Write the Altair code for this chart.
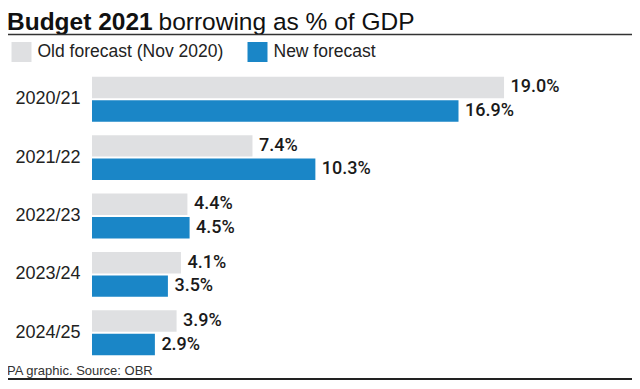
import altair as alt
import pandas as pd

years = ["2020/21", "2021/22", "2022/23", "2023/24", "2024/25"]
old_forecast = [19.0, 7.4, 4.4, 4.1, 3.9]
new_forecast = [16.9, 10.3, 4.5, 3.5, 2.9]
series_names = ["Old forecast (Nov 2020)", "New forecast"]
series_colors = ["#dfe0e2", "#1a86c7"]

rows = []
for y, o, n in zip(years, old_forecast, new_forecast):
    rows.append({"year": y, "series": series_names[0], "value": o})
    rows.append({"year": y, "series": series_names[1], "value": n})
df = pd.DataFrame(rows)

FONT = "Liberation Sans"

y_enc = alt.Y("year:N", sort=years,
              scale=alt.Scale(paddingInner=0, paddingOuter=0),
              axis=alt.Axis(title=None, ticks=False, domain=False, labelFontSize=18,
                            labelFont=FONT, labelColor="#222", labelPadding=12))
yoff = alt.YOffset("series:N", sort=series_names,
                   scale=alt.Scale(paddingInner=0.085, paddingOuter=0.287))
x_enc = alt.X("value:Q", scale=alt.Scale(domain=[0, 24.9]), axis=None)

base = alt.Chart(df)

bars = base.mark_bar().encode(
    x=x_enc, y=y_enc, yOffset=yoff,
    color=alt.Color("series:N", sort=series_names,
                    scale=alt.Scale(domain=series_names, range=series_colors),
                    legend=alt.Legend(title=None, orient="none", legendX=-80.5, legendY=-28,
                                      direction="horizontal", symbolType="square",
                                      symbolSize=400, symbolStrokeWidth=0, labelOffset=6,
                                      columnPadding=24, labelFontSize=17.5, labelFont=FONT,
                                      labelColor="#222", padding=0, labelLimit=400)),
)

labels = base.mark_text(align="left", baseline="middle", dx=6.5, fontSize=18,
                        font="Roboto", fontWeight=500, color="#1a1a1a").encode(
    x=x_enc, y=y_enc, yOffset=yoff,
    text=alt.Text("label:N"),
).transform_calculate(label="format(datum.value, '.1f') + '%'")

title_bold = alt.Chart(pd.DataFrame({"t": ["Budget 2021"]})).mark_text(
    align="left", baseline="alphabetic", fontSize=24.5, font=FONT, fontWeight="bold", color="#111"
).encode(x=alt.value(-85), y=alt.value(-40.5), text="t:N")
title_reg = alt.Chart(pd.DataFrame({"t": ["borrowing as % of GDP"]})).mark_text(
    align="left", baseline="alphabetic", fontSize=24.5, font=FONT, color="#111"
).encode(x=alt.value(66.5), y=alt.value(-40.5), text="t:N")

source = alt.Chart(pd.DataFrame({"t": ["PA graphic. Source: OBR"]})).mark_text(
    align="left", baseline="alphabetic", fontSize=13, font=FONT, color="#333"
).encode(x=alt.value(-85), y=alt.value(305), text="t:N")

top_rule = alt.Chart(pd.DataFrame({"a": [0]})).mark_rule(color="#333", strokeWidth=1.5).encode(
    x=alt.value(-92), x2=alt.value(548), y=alt.value(-35.5))
bottom_rule = alt.Chart(pd.DataFrame({"a": [0]})).mark_rule(color="#222", strokeWidth=2).encode(
    x=alt.value(-92), x2=alt.value(548), y=alt.value(309))

chart = alt.layer(bars, labels, title_bold, title_reg, source, top_rule, bottom_rule).properties(
    width=540, height=292,
    autosize=alt.AutoSizeParams(type="none"),
    padding={"left": 84, "top": 62, "right": 0, "bottom": 19},
    background="white",
).configure_view(stroke=None)

chart.save("out.html", embed_options={"renderer": "svg", "actions": False})
